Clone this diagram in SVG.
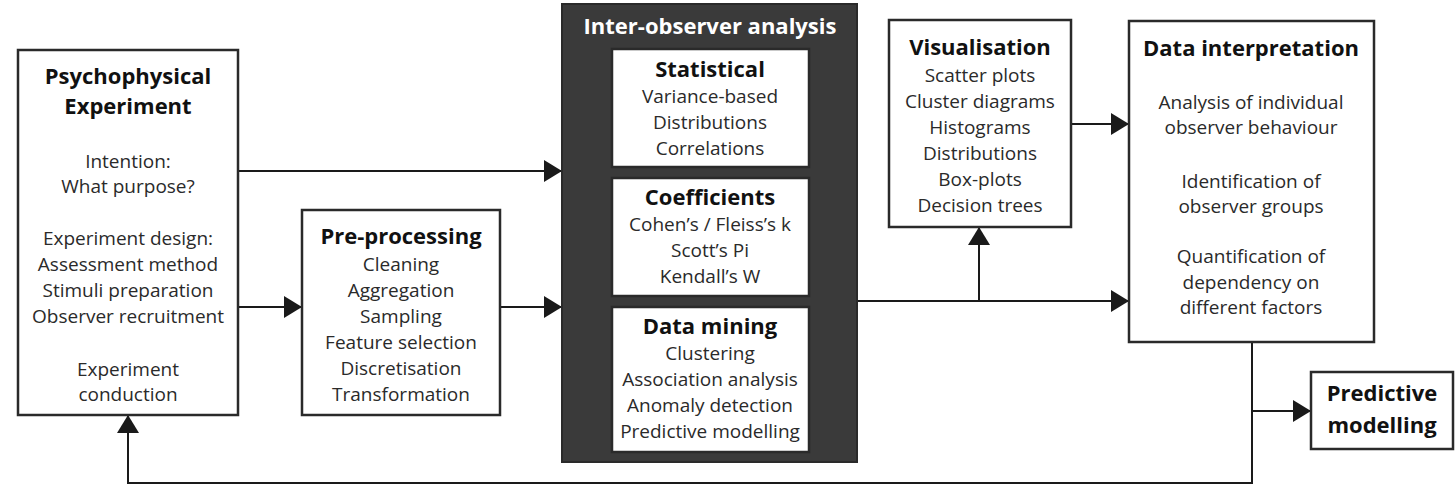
<svg xmlns="http://www.w3.org/2000/svg" width="1456" height="487" viewBox="0 0 1456 487">
<defs>
<marker id="arr" markerUnits="userSpaceOnUse" markerWidth="20" markerHeight="24" refX="18" refY="11" orient="auto">
<path d="M0,0 L18,11 L0,22 z" fill="#1a1a1a"/>
</marker>
<style>
.box{fill:#fff;stroke:#2a2a2a;stroke-width:2.5}
.dark{fill:#3a3a3a;stroke:#2a2a2a;stroke-width:2}
.t{font-family:"Open Sans","Liberation Sans",sans-serif;font-size:19px;fill:#2a2a2a;text-anchor:middle}
.h{font-family:"Open Sans","Liberation Sans",sans-serif;font-size:22px;font-weight:bold;fill:#111;text-anchor:middle}
.hw{font-family:"Open Sans","Liberation Sans",sans-serif;font-size:22px;font-weight:bold;fill:#fff;text-anchor:middle}
.c{fill:none;stroke:#1a1a1a;stroke-width:2}
</style>
</defs>
<rect width="1456" height="487" fill="#fff"/>
<g id="connectors">
<path class="c" d="M238,171 H562" marker-end="url(#arr)"/>
<path class="c" d="M238,307 H302" marker-end="url(#arr)"/>
<path class="c" d="M500,307 H562" marker-end="url(#arr)"/>
<path class="c" d="M857,301 H1129" marker-end="url(#arr)"/>
<path class="c" d="M979,301 V227" marker-end="url(#arr)"/>
<path class="c" d="M1071,124 H1129" marker-end="url(#arr)"/>
<path class="c" d="M1252,342 V483 H128 V415" marker-end="url(#arr)"/>
<path class="c" d="M1252,411 H1311" marker-end="url(#arr)"/>
</g>
<g id="psychophysical">
<rect class="box" x="18" y="50" width="220" height="365"/>
<text class="h" x="128" y="84">Psychophysical</text>
<text class="h" x="128" y="114">Experiment</text>
<text class="t" x="128" y="168">Intention:</text>
<text class="t" x="128" y="193">What purpose?</text>
<text class="t" x="128" y="245">Experiment design:</text>
<text class="t" x="128" y="271">Assessment method</text>
<text class="t" x="128" y="297">Stimuli preparation</text>
<text class="t" x="128" y="323">Observer recruitment</text>
<text class="t" x="128" y="376">Experiment</text>
<text class="t" x="128" y="401">conduction</text>
</g>
<g id="preprocessing">
<rect class="box" x="302" y="210" width="198" height="205"/>
<text class="h" x="401" y="244">Pre-processing</text>
<text class="t" x="401" y="271">Cleaning</text>
<text class="t" x="401" y="297">Aggregation</text>
<text class="t" x="401" y="323">Sampling</text>
<text class="t" x="401" y="349">Feature selection</text>
<text class="t" x="401" y="375">Discretisation</text>
<text class="t" x="401" y="401">Transformation</text>
</g>
<g id="inter-observer">
<rect class="dark" x="562" y="4" width="295" height="458"/>
<text class="hw" x="710" y="34">Inter-observer analysis</text>
<g id="statistical">
<rect class="box" x="612" y="49" width="197" height="118"/>
<text class="h" x="710" y="77">Statistical</text>
<text class="t" x="710" y="103">Variance-based</text>
<text class="t" x="710" y="129">Distributions</text>
<text class="t" x="710" y="155">Correlations</text>
</g>
<g id="coefficients">
<rect class="box" x="612" y="178" width="197" height="118"/>
<text class="h" x="710" y="205">Coefficients</text>
<text class="t" x="710" y="231">Cohen’s / Fleiss’s k</text>
<text class="t" x="710" y="257">Scott’s Pi</text>
<text class="t" x="710" y="283">Kendall’s W</text>
</g>
<g id="datamining">
<rect class="box" x="612" y="307" width="197" height="145"/>
<text class="h" x="710" y="334">Data mining</text>
<text class="t" x="710" y="360">Clustering</text>
<text class="t" x="710" y="386">Association analysis</text>
<text class="t" x="710" y="412">Anomaly detection</text>
<text class="t" x="710" y="438">Predictive modelling</text>
</g>
</g>
<g id="visualisation">
<rect class="box" x="889" y="20" width="182" height="207"/>
<text class="h" x="980" y="55">Visualisation</text>
<text class="t" x="980" y="82">Scatter plots</text>
<text class="t" x="980" y="108">Cluster diagrams</text>
<text class="t" x="980" y="134">Histograms</text>
<text class="t" x="980" y="160">Distributions</text>
<text class="t" x="980" y="186">Box-plots</text>
<text class="t" x="980" y="212">Decision trees</text>
</g>
<g id="interpretation">
<rect class="box" x="1129" y="21" width="245" height="321"/>
<text class="h" x="1251" y="56">Data interpretation</text>
<text class="t" x="1251" y="109">Analysis of individual</text>
<text class="t" x="1251" y="134">observer behaviour</text>
<text class="t" x="1251" y="188">Identification of</text>
<text class="t" x="1251" y="213">observer groups</text>
<text class="t" x="1251" y="263">Quantification of</text>
<text class="t" x="1251" y="289">dependency on</text>
<text class="t" x="1251" y="314">different factors</text>
</g>
<g id="predictive">
<rect class="box" x="1311" y="372" width="142" height="77"/>
<text class="h" x="1382" y="401">Predictive</text>
<text class="h" x="1382" y="433">modelling</text>
</g>
</svg>
